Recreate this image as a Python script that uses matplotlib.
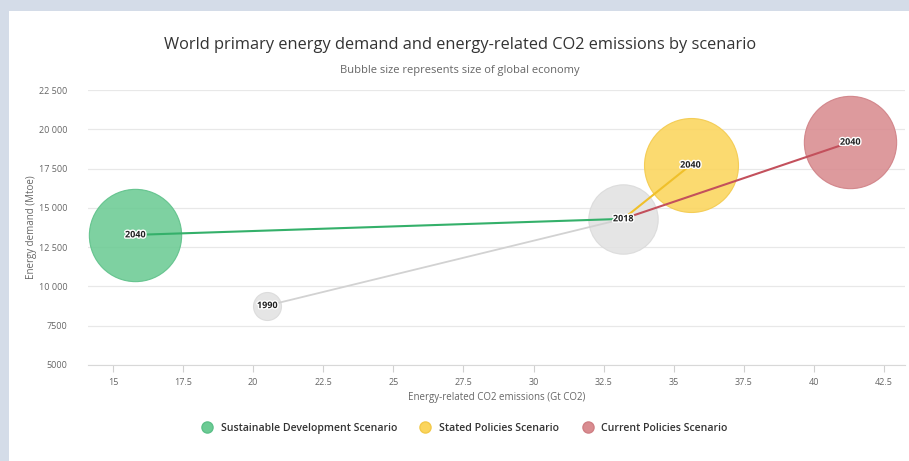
import numpy as np
import matplotlib
matplotlib.use("Agg")
import matplotlib.pyplot as plt
import matplotlib.patheffects as pe
from matplotlib.lines import Line2D

plt.rcParams['font.family'] = ['Open Sans', 'DejaVu Sans']

# data
history_years = ["1990", "2018"]
history_co2 = [20.5, 33.2]
history_demand = [8780, 14300]
history_gdp = [52, 130]

scenarios = ["Sustainable Development Scenario", "Stated Policies Scenario", "Current Policies Scenario"]
scenario_year = "2040"
scenario_co2 = [15.8, 35.6, 41.3]
scenario_demand = [13280, 17720, 19180]
scenario_gdp = [240, 250, 240]

xticks = [15, 17.5, 20, 22.5, 25, 27.5, 30, 32.5, 35, 37.5, 40, 42.5]
yticks = [5000, 7500, 10000, 12500, 15000, 17500, 20000, 22500]

fill_cols = ["#6ccb94", "#fbd55c", "#d98c90"]
edge_cols = ["#5cc088", "#f3c94a", "#cf7f84"]
line_cols = ["#34b06a", "#f0c02a", "#c3505c"]
hist_fill = "#e1e1e1"
hist_line = "#d2d2d2"

gmin = min(history_gdp)
gmax = max(scenario_gdp)


def bubble_size(g):
    # diameter in pixels, area based like the original
    d = 28 + 66 * np.sqrt((g - gmin) / (gmax - gmin))
    return (d * 72 / 100) ** 2


fig = plt.figure(figsize=(9.09, 4.61), dpi=100)
fig.patch.set_facecolor("#d4dce8")
card = plt.Rectangle((9 / 909, 0), 1, 1 - 11 / 461, transform=fig.transFigure,
                     facecolor="white", edgecolor="none", zorder=-10)
fig.patches.append(card)

ax = fig.add_axes([88 / 909, 96 / 461, 817 / 909, 275 / 461])
ax.set_facecolor("none")
ax.set_zorder(1)

outline = [pe.withStroke(linewidth=2, foreground="white")]

# historical bubbles + line
for y, x, d, g in zip(history_years, history_co2, history_demand, history_gdp):
    ax.scatter(x, d, s=bubble_size(g), color=hist_fill, edgecolors="#d9d9d9",
               linewidths=0.8, alpha=0.85, zorder=2, clip_on=False)
ax.plot(history_co2, history_demand, color=hist_line, lw=1.3, zorder=3)

# scenario bubbles + lines from 2018
for i in range(len(scenarios)):
    ax.scatter(scenario_co2[i], scenario_demand[i], s=bubble_size(scenario_gdp[i]),
               color=fill_cols[i], edgecolors=edge_cols[i], linewidths=0.8,
               alpha=0.88, zorder=2, clip_on=False)
    ax.plot([history_co2[-1], scenario_co2[i]], [history_demand[-1], scenario_demand[i]],
            color=line_cols[i], lw=1.5, zorder=3)

for y, x, d in zip(history_years, history_co2, history_demand):
    ax.text(x, d, y, ha="center", va="center", fontsize=6.5, fontweight="bold",
            color="#222222", path_effects=outline, zorder=5)
for i in range(len(scenarios)):
    ax.text(scenario_co2[i], scenario_demand[i], scenario_year, ha="center", va="center",
            fontsize=6.5, fontweight="bold", color="#222222", path_effects=outline, zorder=5)

ax.set_xlim(14.11, 43.25)
ax.set_ylim(5000, 22500)
ax.set_xticks(xticks)
ax.set_xticklabels([("%g" % v) for v in xticks])
ax.set_yticks(yticks)
ax.set_yticklabels([("{:,}".format(v).replace(",", " ") if v >= 10000 else str(v)) for v in yticks])
ax.grid(axis="y", color="#e8e8e8", lw=0.9)
ax.set_axisbelow(True)
for s in ["top", "right", "left"]:
    ax.spines[s].set_visible(False)
ax.spines["bottom"].set_color("#d8d8d8")
ax.tick_params(axis="x", length=5, color="#d0d0d0", labelsize=6.5, labelcolor="#666666", pad=4)
ax.tick_params(axis="y", length=0, labelsize=6.5, labelcolor="#666666", pad=15)

ax.set_xlabel("Energy-related CO2 emissions (Gt CO2)", fontsize=7, color="#666666", labelpad=4)
ax.set_ylabel("Energy demand (Mtoe)", fontsize=7, color="#666666", labelpad=1)

fig.text(0.506, 1 - 45 / 461, "World primary energy demand and energy-related CO2 emissions by scenario",
         ha="center", va="center", fontsize=11.8, color="#333333")
fig.text(0.506, 1 - 70 / 461, "Bubble size represents size of global economy",
         ha="center", va="center", fontsize=8, color="#666666")

handles = [Line2D([], [], marker="o", ls="none", markersize=8, markerfacecolor=fill_cols[i],
                  markeredgecolor=edge_cols[i], label=scenarios[i]) for i in range(len(scenarios))]
leg = fig.legend(handles=handles, loc="center", bbox_to_anchor=(462 / 909, 33 / 461), ncol=3,
                 frameon=False, handletextpad=0.3, columnspacing=1.7,
                 prop={"size": 7.6, "weight": "semibold"})
for t in leg.get_texts():
    t.set_color("#333333")

fig.savefig("out.png", dpi=100)
